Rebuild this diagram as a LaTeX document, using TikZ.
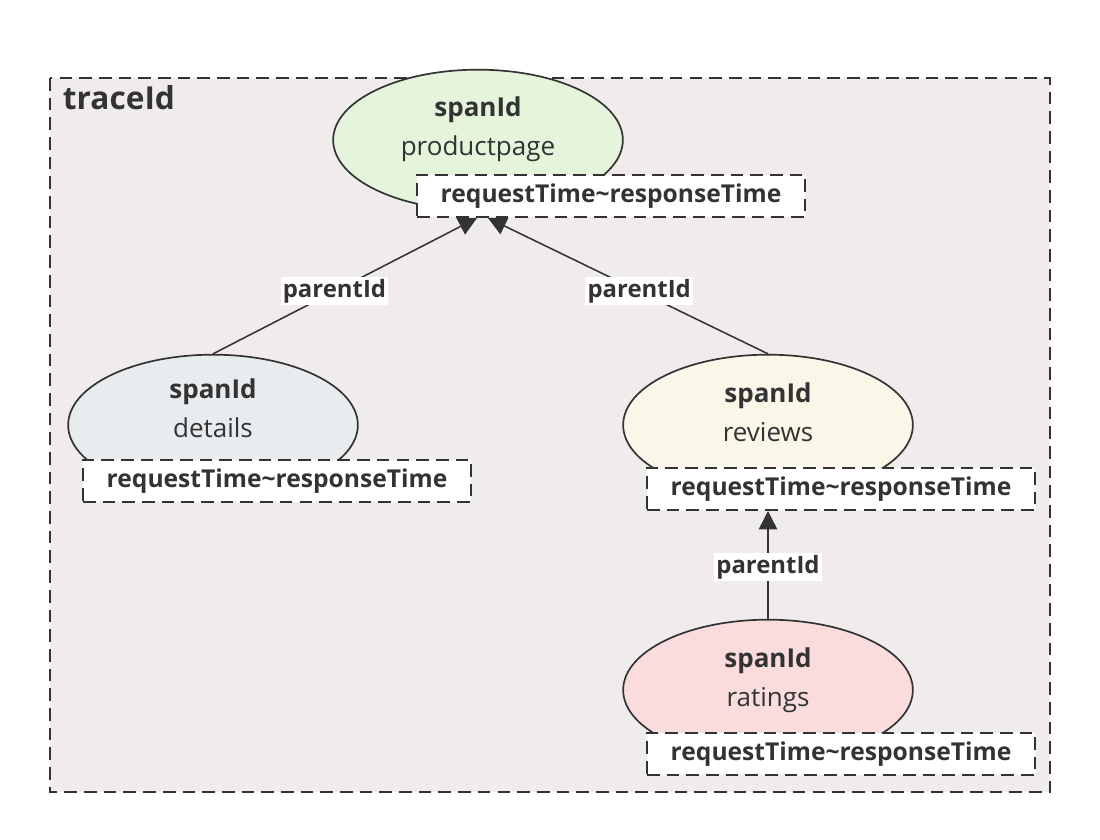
\documentclass[tikz,border=0pt]{standalone}
\usepackage{fontspec}
\setmainfont{Open Sans}
\usetikzlibrary{arrows.meta,shapes.geometric}
\definecolor{inkgray}{RGB}{51,51,51}
\definecolor{tracebg}{RGB}{240,236,236}
\definecolor{ppfill}{RGB}{228,245,220}
\definecolor{detfill}{RGB}{232,236,238}
\definecolor{revfill}{RGB}{250,247,233}
\definecolor{ratfill}{RGB}{250,220,220}
\tikzset{
  span/.style={ellipse, draw=inkgray, line width=1.2pt, minimum width=206pt, minimum height=100pt, inner sep=0pt},
  spantext/.style={align=center, text=inkgray, font=\fontsize{18.5}{28}\selectfont},
  timebox/.style={draw=inkgray, fill=white, line width=1.3pt, dash pattern=on 9pt off 5pt,
        minimum width=276pt, minimum height=30pt, inner sep=0pt, text=inkgray,
        font=\fontsize{17.5}{20}\bfseries\selectfont},
  link/.style={draw=inkgray, line width=1.1pt, -{Triangle[length=13pt,width=13pt]}},
  plabel/.style={fill=white, text=inkgray, inner sep=1.5pt, font=\fontsize{17}{20}\bfseries\selectfont}
}
\begin{document}
\begin{tikzpicture}[x=0.025cm, y=-0.025cm]
    \useasboundingbox (0,0) rectangle (1100,840);
    \fill[white] (0,0) rectangle (1100,840);

    % trace frame
    \draw[fill=tracebg, draw=inkgray, line width=1.5pt, dash pattern=on 9pt off 5pt] (50,78) rectangle (1050,792);
    \node[anchor=west, text=inkgray, font=\fontsize{22.5}{26}\bfseries\selectfont] (trace) at (58,98) {traceId};

    % spans
    \node[span, fill=ppfill] (pp) at (478,140) {};
    \node[spantext] (pptext) at (478,129) {\textbf{spanId}\\productpage};
    \node[timebox] (pptime) at (611,196) {requestTime\textasciitilde responseTime};

    \node[span, fill=detfill] (det) at (213,425) {};
    \node[spantext] (dettext) at (213,408) {\textbf{spanId}\\details};
    \node[timebox] (dettime) at (277,481) {requestTime\textasciitilde responseTime};

    \node[span, fill=revfill] (rev) at (768,425) {};
    \node[spantext] (revtext) at (768,412) {\textbf{spanId}\\reviews};
    \node[timebox] (revtime) at (841,489) {requestTime\textasciitilde responseTime};

    \node[span, fill=ratfill] (rat) at (768,690) {};
    \node[spantext] (rattext) at (768,680) {\textbf{spanId}\\ratings};
    \node[timebox] (rattime) at (841,754) {requestTime\textasciitilde responseTime};

    % arrow ends under the productpage box
    \coordinate (ppinL) at (477,218);
    \coordinate (ppinR) at (488,218);

    % parent links
    \draw[link] (det.north) -- (ppinL) node[pos=0.46, plabel] (pl1) {parentId};
    \draw[link] (rev.north) -- (ppinR) node[pos=0.46, plabel] (pl2) {parentId};
    \draw[link] (rat.north) -- (revtime.south -| rat.north) node[pos=0.48, plabel] (pl3) {parentId};
\end{tikzpicture}
\end{document}
